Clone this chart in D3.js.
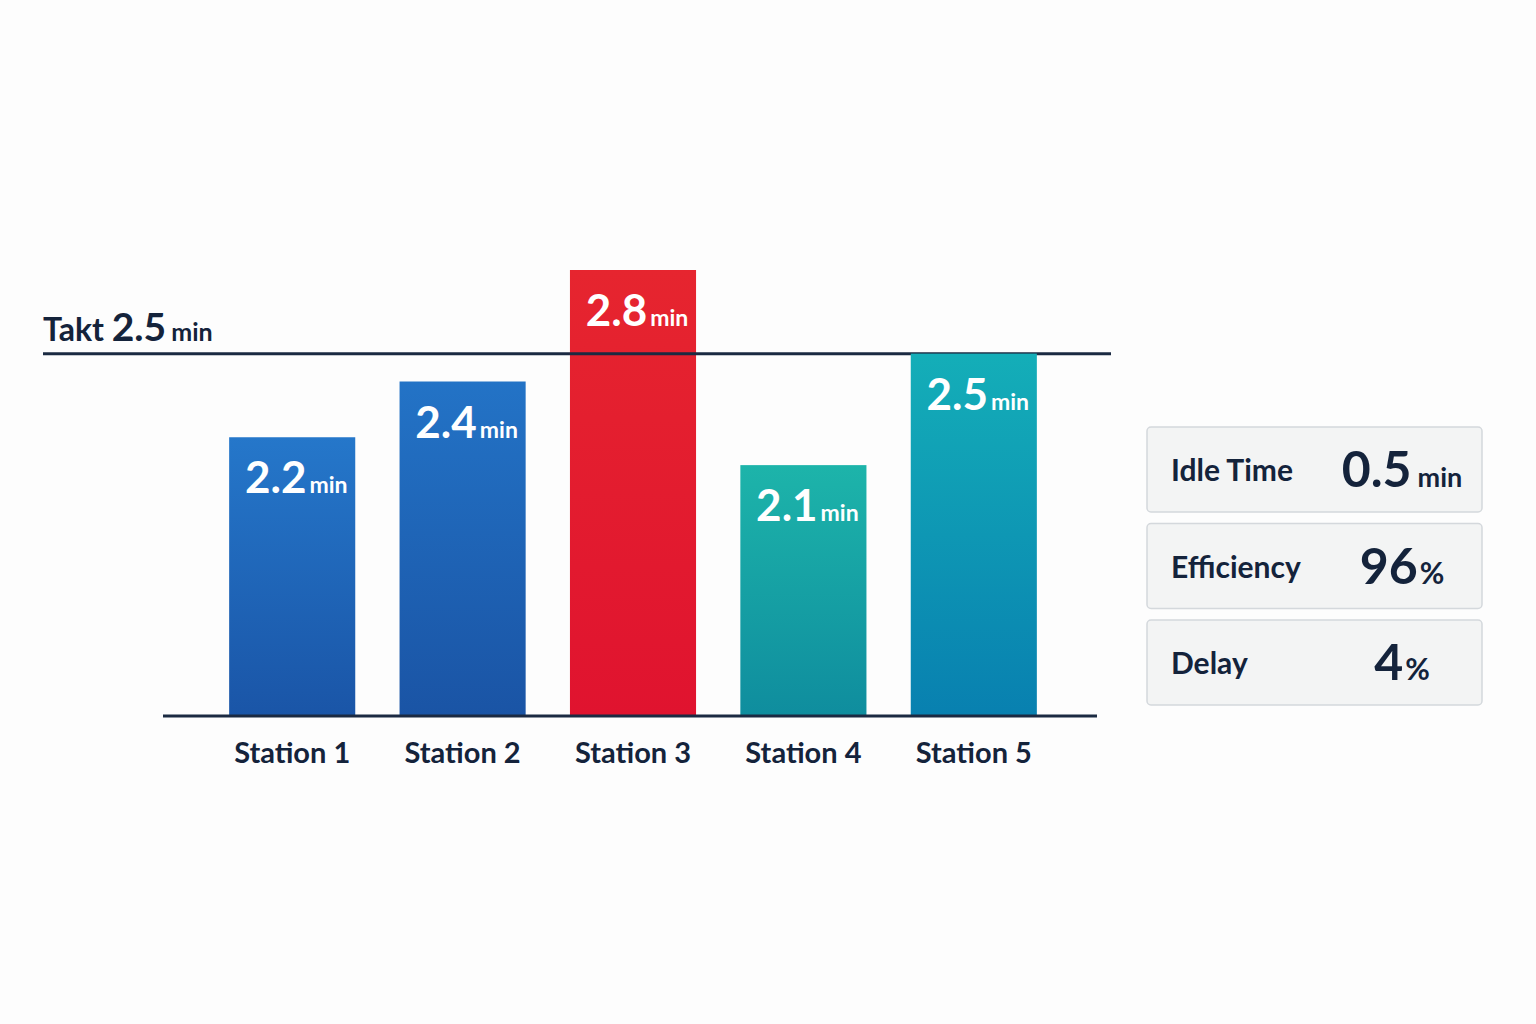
<!DOCTYPE html>
<html>
<head>
<meta charset="utf-8">
<script src="https://cdn.jsdelivr.net/npm/d3@7"></script>
<style>
  body { margin: 0; background: #fdfdfd; }
  svg text { font-family: Lato, "Noto Sans", sans-serif; font-weight: 700; }
</style>
</head>
<body>
<div id="chart"></div>
<script>
const width = 1536
const height = 1024

// data
const stations = ["Station 1", "Station 2", "Station 3", "Station 4", "Station 5"]
const cycleTimes = [2.2, 2.4, 2.8, 2.1, 2.5]
const taktTime = 2.5
const kpiLabels = ["Idle Time", "Efficiency", "Delay"]
const kpiValues = ["0.5", "96", "4"]
const kpiUnits = ["min", "%", "%"]

const topColors = ["#2577ca", "#2373c6", "#e6252f", "#1db4aa", "#14aeb8"]
const bottomColors = ["#1a55a7", "#1a54a5", "#e0132f", "#0f8d9e", "#0880b0"]
const ink = "#14233b"

const svg = d3.select("#chart").append("svg").attr("width", width).attr("height", height)

// escalas
const x = d3.scaleBand().domain(stations).range([207, 1059]).paddingInner(0.26).paddingOuter(0.13)
const y = d3.scaleLinear().domain([1.2, 2.8]).range([716, 270])

// gradients
const defs = svg.append("defs")
stations.forEach((s, i) => {
    const g = defs.append("linearGradient").attr("id", "grad" + i)
        .attr("x1", 0).attr("y1", 0).attr("x2", 0).attr("y2", 1)
    g.append("stop").attr("offset", "0%").attr("stop-color", topColors[i])
    g.append("stop").attr("offset", "100%").attr("stop-color", bottomColors[i])
})

// takt line (behind the bars)
const taktLine = svg.append("line")
    .attr("x1", 43).attr("x2", 1111)
    .attr("y1", y(taktTime)).attr("y2", y(taktTime))
    .attr("stroke", "#1b2a42").attr("stroke-width", 3)

// bars
const bars = svg.append("g").attr("id", "bars")
bars.selectAll("rect").data(cycleTimes)
    .enter()
    .append("rect")
        .attr("x", (d, i) => x(stations[i]))
        .attr("y", d => y(d))
        .attr("width", x.bandwidth())
        .attr("height", d => y.range()[0] - y(d))
        .attr("fill", (d, i) => `url(#grad${i})`)

// takt line drawn again across bars that exceed it
cycleTimes.forEach((d, i) => {
    if (d > taktTime) {
        svg.append("line")
            .attr("x1", x(stations[i])).attr("x2", x(stations[i]) + x.bandwidth())
            .attr("y1", y(taktTime)).attr("y2", y(taktTime))
            .attr("stroke", "#1b2a42").attr("stroke-width", 3)
    }
})

const taktLabel = svg.append("text").attr("x", 43).attr("y", y(taktTime) - 13).attr("fill", ink)
taktLabel.append("tspan").attr("font-size", 32).text("Takt ")
taktLabel.append("tspan").attr("font-size", 39).text(taktTime.toFixed(1))
taktLabel.append("tspan").attr("font-size", 25).attr("dx", 5).text("min")

// baseline axis
const xAxis = d3.axisBottom(x).tickSize(0).tickPadding(26)
const xAxisGroup = svg.append("g").attr("transform", `translate(0, ${y.range()[0]})`).call(xAxis)
xAxisGroup.select(".domain").remove()
xAxisGroup.append("line").attr("x1", 163).attr("x2", 1097)
    .attr("stroke", "#1b2a42").attr("stroke-width", 3)
xAxisGroup.selectAll(".tick text")
    .attr("font-size", 29).attr("fill", ink)
    .attr("font-family", "Lato, 'Noto Sans', sans-serif").attr("font-weight", 700)

// value labels
const labels = svg.append("g").attr("id", "labels")
labels.selectAll("text").data(cycleTimes)
    .enter()
    .append("text")
        .attr("x", (d, i) => x(stations[i]) + x.bandwidth() / 2 + 4)
        .attr("y", d => y(d) + 56)
        .attr("text-anchor", "middle")
        .attr("fill", "#ffffff")
        .each(function (d) {
            const t = d3.select(this)
            t.append("tspan").attr("font-size", 44).text(d.toFixed(1))
            t.append("tspan").attr("font-size", 23).attr("dx", 3).text("min")
        })

// kpi panels
const panels = svg.append("g").attr("id", "panels")
kpiLabels.forEach((k, i) => {
    const top = 427 + i * 96.5
    const g = panels.append("g").attr("transform", `translate(1147, ${top})`)
    g.append("rect").attr("width", 335).attr("height", 85).attr("rx", 4)
        .attr("fill", "#f3f4f4").attr("stroke", "#d4d8dc").attr("stroke-width", 1.5)
    g.append("text").attr("x", 24).attr("y", 54).attr("font-size", 30).attr("fill", ink).text(k)
    const v = g.append("text").attr("x", 255).attr("y", 60).attr("text-anchor", "middle").attr("fill", ink)
    v.append("tspan").attr("font-size", 50).text(kpiValues[i])
    v.append("tspan").attr("font-size", kpiUnits[i] == "min" ? 27 : 30).attr("dx", kpiUnits[i] == "min" ? 6 : 2).text(kpiUnits[i])
})
</script>
</body>
</html>
